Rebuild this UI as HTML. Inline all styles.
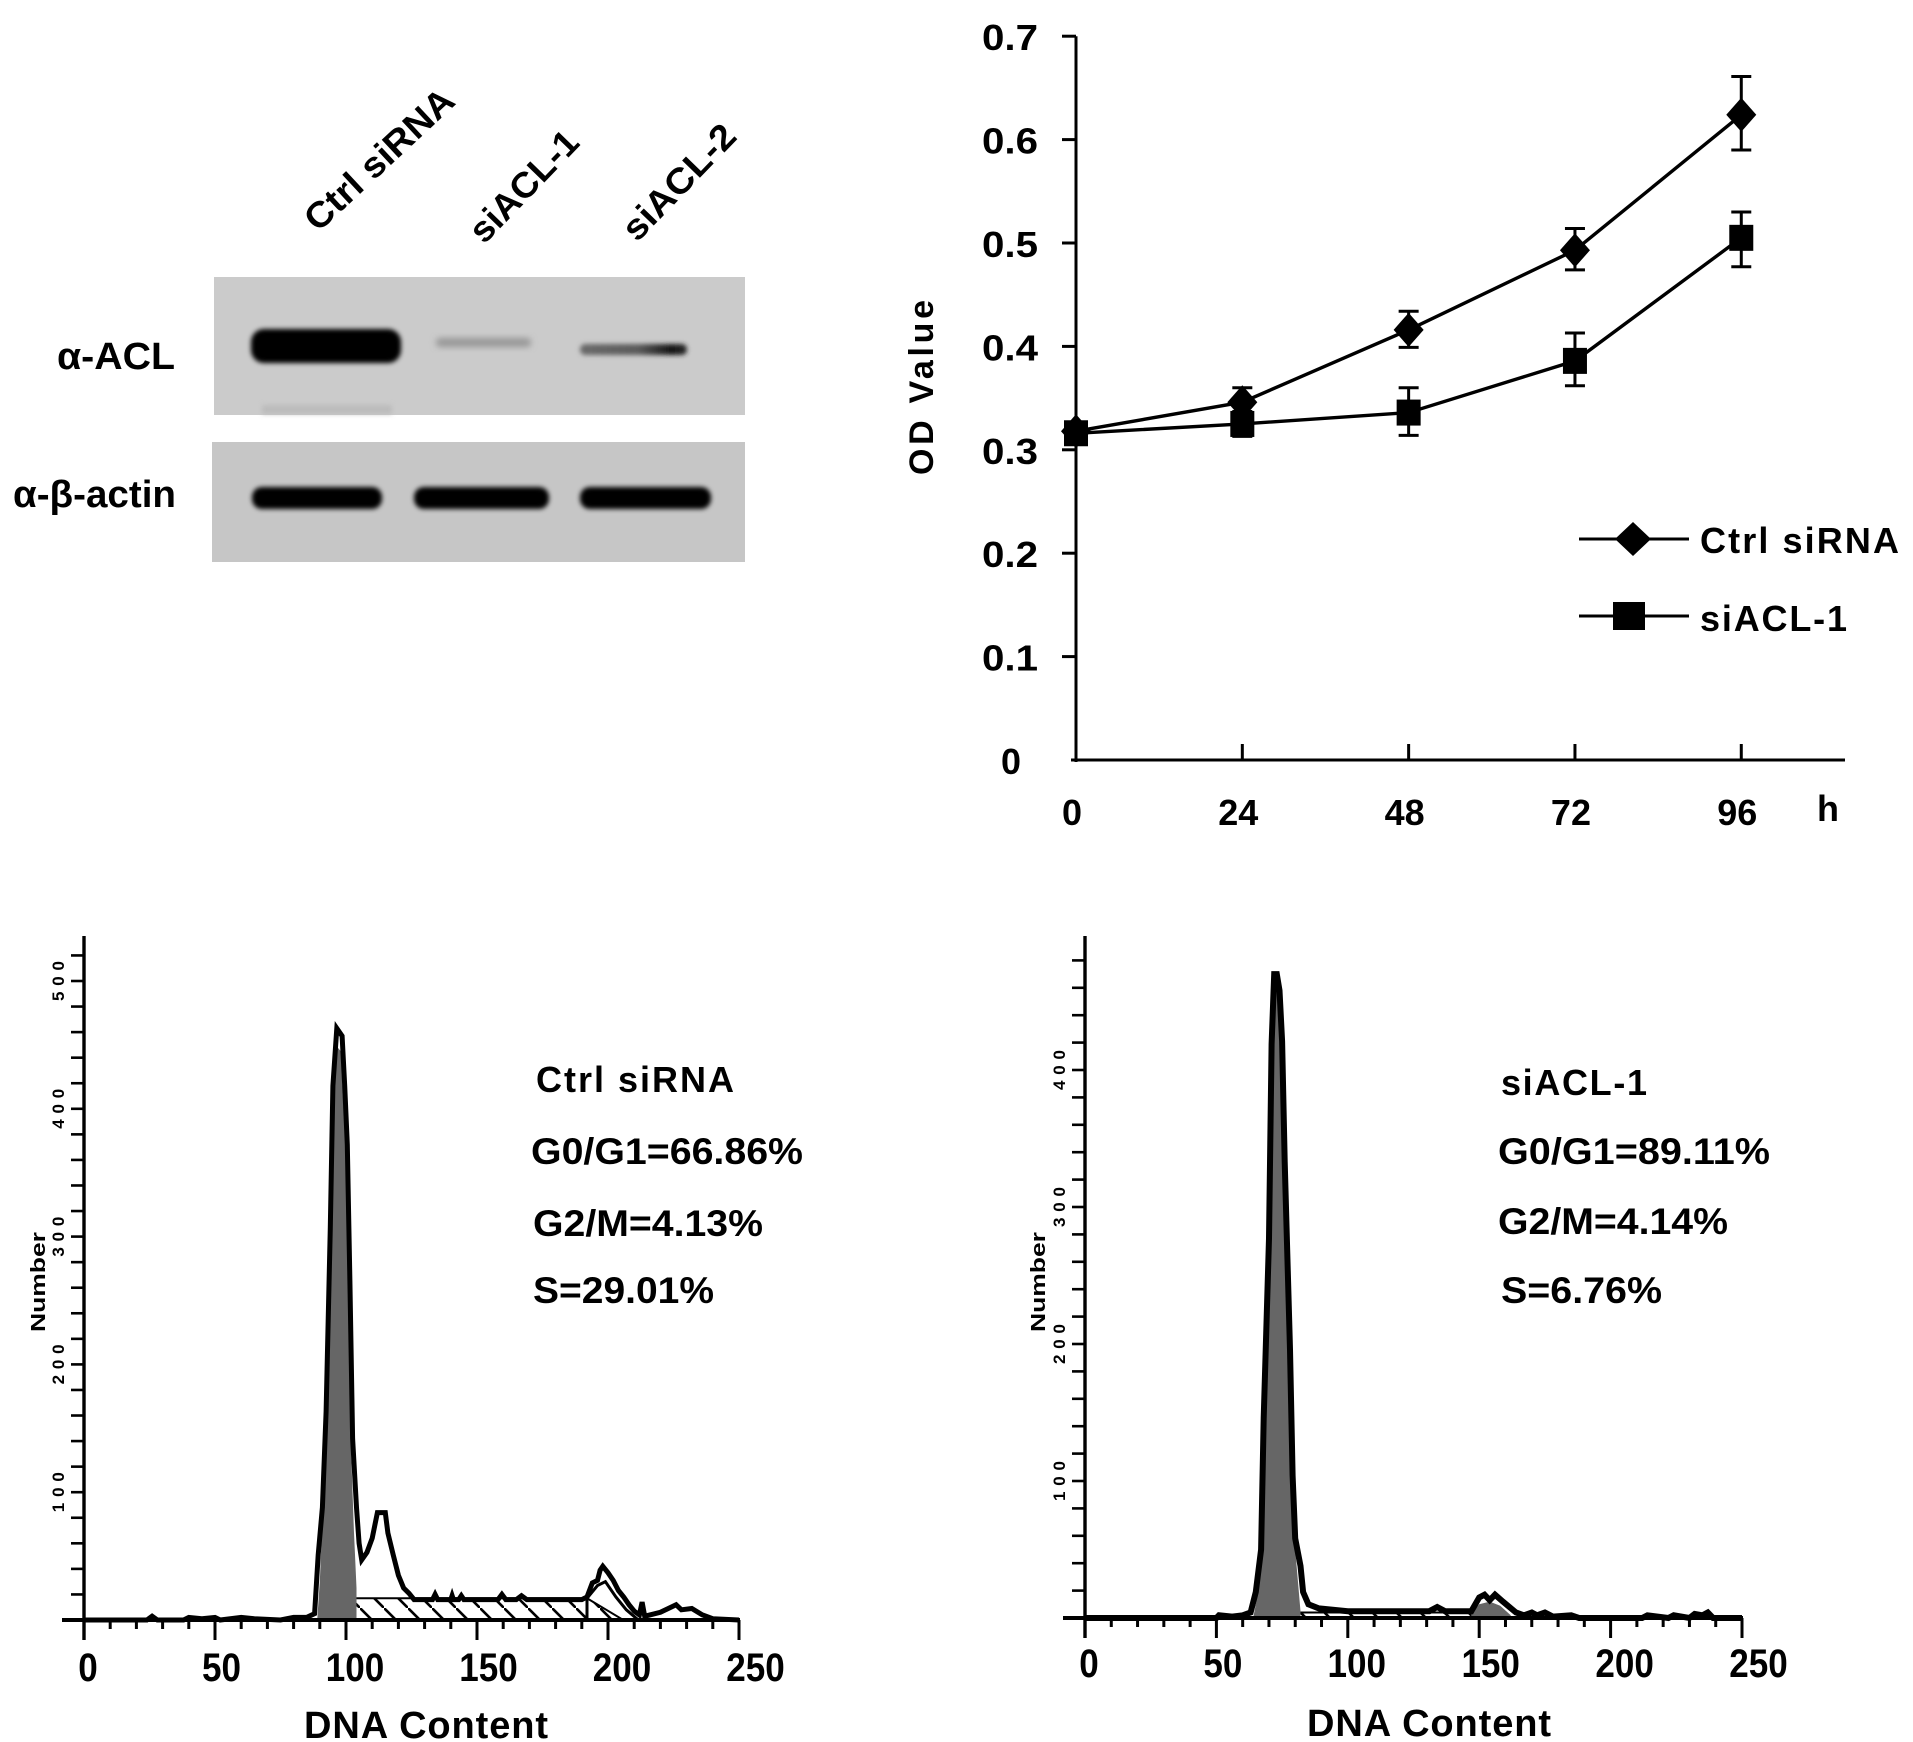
<!DOCTYPE html>
<html lang="en">
<head>
<meta charset="utf-8">
<title>ACL knockdown figure</title>
<style>
html,body{margin:0;padding:0;background:#fff;}
svg{display:block;}
text{font-family:"Liberation Sans",Arial,"DejaVu Sans",sans-serif;font-weight:bold;fill:#000;}
</style>
</head>
<body>
<svg id="figure" xmlns="http://www.w3.org/2000/svg" width="1913" height="1742" viewBox="0 0 1913 1742">
<defs>
<filter id="b8" x="-20%" y="-60%" width="140%" height="220%"><feGaussianBlur stdDeviation="2.4"/></filter>
<filter id="b4" x="-20%" y="-60%" width="140%" height="220%"><feGaussianBlur stdDeviation="3.2"/></filter>
<linearGradient id="band3grad" x1="0" x2="1" y1="0" y2="0"><stop offset="0" stop-color="#6a6a6a"/><stop offset="0.55" stop-color="#5a5a5a"/><stop offset="0.85" stop-color="#141414"/><stop offset="1" stop-color="#2a2a2a"/></linearGradient>
<pattern id="hatch" patternUnits="userSpaceOnUse" width="24" height="24">
<line x1="-2" y1="-2" x2="26" y2="26" stroke="#000" stroke-width="2.6"/>
</pattern>
</defs>

<g id="blot">
<rect x="214" y="277" width="531" height="138" fill="#cbcbcb"/>
<rect x="262" y="405" width="130" height="9" fill="#bcbcbc" filter="url(#b8)"/>
<rect x="251" y="329" width="150" height="34" rx="13" fill="#000" filter="url(#b8)"/>
<rect x="436" y="338" width="95" height="9" rx="4" fill="#979797" filter="url(#b4)"/>
<rect x="580" y="344" width="107" height="11" rx="5" fill="url(#band3grad)" filter="url(#b8)"/>
<rect x="212" y="442" width="533" height="120" fill="#c6c6c6"/>
<rect x="252" y="487" width="130" height="22" rx="10" fill="#000" filter="url(#b8)"/>
<rect x="414" y="487" width="135" height="22" rx="10" fill="#000" filter="url(#b8)"/>
<rect x="580" y="487" width="131" height="22" rx="10" fill="#000" filter="url(#b8)"/>
<text x="57" y="369" font-size="38" textLength="118" lengthAdjust="spacingAndGlyphs">α-ACL</text>
<text x="13" y="507" font-size="38" textLength="163" lengthAdjust="spacingAndGlyphs">α-β-actin</text>
<text transform="translate(318 233) rotate(-43)" font-size="36" textLength="190" lengthAdjust="spacingAndGlyphs">Ctrl siRNA</text>
<text transform="translate(484 245) rotate(-46)" font-size="36" textLength="140" lengthAdjust="spacingAndGlyphs">siACL-1</text>
<text transform="translate(637 243) rotate(-46)" font-size="36" textLength="146" lengthAdjust="spacingAndGlyphs">siACL-2</text>
</g>

<g id="od"></g>
<g id="histL"></g>
<g id="histR"></g>

<g>
<text x="536" y="1092" font-size="36" textLength="198" lengthAdjust="spacing">Ctrl siRNA</text>
<text x="531" y="1164" font-size="37" textLength="272" lengthAdjust="spacingAndGlyphs">G0/G1=66.86%</text>
<text x="533" y="1236" font-size="37" textLength="230" lengthAdjust="spacingAndGlyphs">G2/M=4.13%</text>
<text x="533" y="1303" font-size="37" textLength="181" lengthAdjust="spacingAndGlyphs">S=29.01%</text>
</g>
<g>
<text x="1501" y="1095" font-size="36" textLength="146" lengthAdjust="spacing">siACL-1</text>
<text x="1498" y="1164" font-size="37" textLength="272" lengthAdjust="spacingAndGlyphs">G0/G1=89.11%</text>
<text x="1498" y="1234" font-size="37" textLength="230" lengthAdjust="spacingAndGlyphs">G2/M=4.14%</text>
<text x="1501" y="1303" font-size="37" textLength="161" lengthAdjust="spacingAndGlyphs">S=6.76%</text>
</g>
</svg>

<script>
// ----- OD line chart data -----
var odHours = [0, 24, 48, 72, 96];
var odYTicks = [0, 0.1, 0.2, 0.3, 0.4, 0.5, 0.6, 0.7];
var ctrlOd = [0.318, 0.346, 0.416, 0.493, 0.624];
var ctrlOdHigh = [0.325, 0.360, 0.434, 0.514, 0.661];
var ctrlOdLow = [0.312, 0.332, 0.399, 0.474, 0.590];
var siaclOd = [0.316, 0.325, 0.336, 0.386, 0.505];
var siaclOdHigh = [0.322, 0.337, 0.360, 0.413, 0.530];
var siaclOdLow = [0.310, 0.313, 0.314, 0.362, 0.477];

// ----- Ctrl siRNA histogram data -----
var ctrlChannels = [0,24,26,28,38,40,45,50,52,60,65,75,80,85,88,89.4,91,92.4,94,95,96.5,98.5,99.5,100.5,101.5,102.5,104,105,106,108,110,112,115,116,118,120,122,124,126,133,134,135,140,140.5,141,143,144,145,158,159.5,161,165,167,169,190,192,194,196,197,198,200,202,204,206,208,210,212,213,214,216,220,224,226,228,232,236,240,250];
var ctrlCounts = [0,0,3,0,0,2,1,2,0,2,1,0,2,2,5,51,88,163,307,418,463,457,418,372,265,142,88,60,47,53,64,84,84,68,51,35,25,21,16,16,20,16,16,19,16,16,19,16,16,20,16,16,19,16,16,18,29,31,39,42,37,31,23,18,12,7,4,14,3,4,6,10,12,8,9,4,1,0];
var ctrlG1Channels = [89,90,92,94,95,96,98,100,101,102,103,104];
var ctrlG1Counts = [0,30,130,290,400,450,445,360,250,130,70,25];
var ctrlSChannels = [95,102,192,205];
var ctrlSCounts = [1,17,17,1];
var ctrlG2Channels = [192,196,199,203,207,211];
var ctrlG2Counts = [17,27,30,18,8,1];
var ctrlYTicks = [100, 200, 300, 400, 500];

// ----- siACL-1 histogram data -----
var siChannels = [0,50,51,56,60,63,65,67,68,70,71,72,73,74,75,76,78,79,80,82,83,85,89,100,131,134,137,147,150,152,154,156,159,164,167,170,172,175,178,185,188,212,214,222,224,230,232,235,237,239,250];
var siCounts = [0,0,2,1,2,4,19,50,146,277,419,470,470,458,421,333,196,104,58,38,19,10,7,5,5,8,5,5,15,17,13,17,12,4,2,4,2,4,1,2,0,0,2,0,2,0,3,2,4,0,0];
var siG1Channels = [64,66,68,70,71,72,73,74,75,76,78,79,80,82];
var siG1Counts = [0,20,130,265,400,455,460,445,405,320,185,95,50,5];
var siG2Channels = [147,150,154,158,162];
var siG2Counts = [3,10,12,9,2];
var siSChannels = [76,80,150,160];
var siSCounts = [1,4,4,1];
var siYTicks = [100, 200, 300, 400];

// ----- shared tick values -----
var xTickValues = [0, 50, 100, 150, 200, 250];

var NS = 'http://www.w3.org/2000/svg';
function make(parent, tag, attrs, txt) {
  var e = document.createElementNS(NS, tag);
  for (var k in attrs) e.setAttribute(k, attrs[k]);
  if (txt !== undefined) e.textContent = txt;
  parent.appendChild(e);
  return e;
}
function linePath(xs, ys, fx, fy) {
  var d = '';
  for (var i = 0; i < xs.length; i++) d += (i ? 'L' : 'M') + fx(xs[i]).toFixed(1) + ' ' + fy(ys[i]).toFixed(1);
  return d;
}
function areaPath(xs, ys, fx, fy) {
  return linePath(xs, ys, fx, fy) + 'L' + fx(xs[xs.length - 1]).toFixed(1) + ' ' + fy(0).toFixed(1) + 'L' + fx(xs[0]).toFixed(1) + ' ' + fy(0).toFixed(1) + 'Z';
}

// ===== OD chart =====
(function () {
  var g = document.getElementById('od');
  var fx = function (h) { return 1076 + h * 6.93; };
  var fy = function (v) { return 760 - v * 1034; };
  var ax;
  ax = make(g, 'line', {x1: 1076, y1: fy(0.7), x2: 1076, y2: 762, stroke: '#000', 'stroke-width': 3});
  
  
  ax = make(g, 'line', {x1: 1071, y1: 760, x2: 1845, y2: 760, stroke: '#000', 'stroke-width': 3});
  
  

  odYTicks.forEach(function (v) {
    if (v > 0) {
      var t = make(g, 'line', {x1: 1062, y1: fy(v), x2: 1076, y2: fy(v), stroke: '#000', 'stroke-width': 3});
      
      
    }
    var l = make(g, 'text', {x: v === 0 ? 1001 : 982, y: fy(v) + 14, 'font-size': 36, textLength: v === 0 ? 20 : 56, lengthAdjust: 'spacingAndGlyphs'}, String(v));
    
    
  });
  odHours.forEach(function (h) {
    if (h > 0) {
      var t = make(g, 'line', {x1: fx(h), y1: 744, x2: fx(h), y2: 760, stroke: '#000', 'stroke-width': 3});
      
      
    }
    var l = make(g, 'text', {x: fx(h) - 4, y: 825, 'font-size': 36, 'text-anchor': 'middle'}, String(h));
    
    
  });
  var u = make(g, 'text', {x: 1817, y: 821, 'font-size': 36}, 'h');
  
  
  var yt = make(g, 'text', {transform: 'translate(933 475) rotate(-90)', 'font-size': 34, textLength: 175, lengthAdjust: 'spacing'}, 'OD Value');
  
  

  function series(vals, hi, lo, name, marker) {
    var p = make(g, 'path', {d: linePath(odHours, vals, fx, fy), fill: 'none', stroke: '#000', 'stroke-width': 3.4});
    
    
    odHours.forEach(function (h, i) {
      var x = fx(h);
      var e = make(g, 'path', {d: 'M' + (x - 10) + ' ' + fy(hi[i]) + 'H' + (x + 10) + 'M' + x + ' ' + fy(hi[i]) + 'V' + fy(lo[i]) + 'M' + (x - 10) + ' ' + fy(lo[i]) + 'H' + (x + 10), fill: 'none', stroke: '#000', 'stroke-width': 3});
      
      
      var y = fy(vals[i]);
      var m;
      if (marker === 'diamond') {
        m = make(g, 'polygon', {points: x + ',' + (y - 17) + ' ' + (x + 15) + ',' + y + ' ' + x + ',' + (y + 17) + ' ' + (x - 15) + ',' + y, fill: '#000'});
      } else {
        m = make(g, 'rect', {x: x - 12, y: y - 13, width: 24, height: 26, fill: '#000'});
      }
      
      
    });
  }
  series(ctrlOd, ctrlOdHigh, ctrlOdLow, 'ctrl-sirna', 'diamond');
  series(siaclOd, siaclOdHigh, siaclOdLow, 'siacl-1', 'square');

  // legend
  var k;
  k = make(g, 'line', {x1: 1579, y1: 539, x2: 1689, y2: 539, stroke: '#000', 'stroke-width': 3});
  
  
  k = make(g, 'polygon', {points: '1633,522 1651,539 1633,556 1615,539', fill: '#000'});
  
  
  k = make(g, 'text', {x: 1700, y: 553, 'font-size': 36, textLength: 199, lengthAdjust: 'spacing'}, 'Ctrl siRNA');
  
  
  k = make(g, 'line', {x1: 1579, y1: 616, x2: 1689, y2: 616, stroke: '#000', 'stroke-width': 3});
  
  
  k = make(g, 'rect', {x: 1613, y: 602, width: 32, height: 28, fill: '#000'});
  
  
  k = make(g, 'text', {x: 1700, y: 631, 'font-size': 36, textLength: 147, lengthAdjust: 'spacing'}, 'siACL-1');
  
  
})();

// ===== Histograms =====
function drawHist(cfg) {
  var g = document.getElementById(cfg.id);
  var fx = cfg.fx, fy = cfg.fy, pre = cfg.prefix, a;

  a = make(g, 'path', {d: areaPath(cfg.sX, cfg.sY, fx, fy), fill: '#fff'});
  
  
  a = make(g, 'path', {d: areaPath(cfg.sX, cfg.sY, fx, fy), fill: 'url(#hatch)', stroke: '#000', 'stroke-width': 2});
  
  
  a = make(g, 'path', {d: areaPath(cfg.g1X, cfg.g1Y, fx, fy), fill: '#666'});
  
  
  a = make(g, 'path', {d: areaPath(cfg.g2X, cfg.g2Y, fx, fy), fill: cfg.g2Fill, stroke: '#000', 'stroke-width': cfg.g2Stroke});
  
  
  a = make(g, 'path', {d: linePath(cfg.x, cfg.y, fx, fy), fill: 'none', stroke: '#000', 'stroke-width': cfg.sw, 'stroke-linejoin': 'miter'});
  
  

  a = make(g, 'line', {x1: fx(0), y1: 936, x2: fx(0), y2: fy(0) + 20, stroke: '#000', 'stroke-width': 3.4});
  
  
  a = make(g, 'line', {x1: fx(0) - 22, y1: fy(0), x2: fx(250) + 1, y2: fy(0), stroke: '#000', 'stroke-width': 4});
  
  

  var v, t;
  for (v = 10; v <= 250; v += 10) {
    t = make(g, 'line', {x1: fx(v), y1: fy(0), x2: fx(v), y2: fy(0) + (v % 50 === 0 ? 20 : 9), stroke: '#000', 'stroke-width': 3});
    
    
  }
  for (v = 20; v <= cfg.yMax; v += 20) {
    t = make(g, 'line', {x1: fx(0) - 13, y1: fy(v), x2: fx(0), y2: fy(v), stroke: '#000', 'stroke-width': 2.6});
    
    
  }
  xTickValues.forEach(function (val) {
    var l = make(g, 'text', {x: fx(val) + 4 + val * 0.05, y: cfg.tickBase, 'font-size': 40, 'text-anchor': 'middle', textLength: String(val).length * 19.5, lengthAdjust: 'spacingAndGlyphs'}, String(val));
    
    
  });
  cfg.yTicks.forEach(function (val) {
    var l = make(g, 'text', {transform: 'translate(' + (fx(0) - 20) + ' ' + (fy(val) + 20) + ') rotate(-90)', 'font-size': 17, textLength: 40, lengthAdjust: 'spacing'}, String(val));
    
    
  });
  var yl = make(g, 'text', {transform: 'translate(' + cfg.numX + ' 1332) rotate(-90)', 'font-size': 20, textLength: 100, lengthAdjust: 'spacingAndGlyphs', 'font-weight': 'normal'}, 'Number');
  
  
  var xl = make(g, 'text', {x: cfg.titleX, y: cfg.titleY, 'font-size': 38, textLength: 244, lengthAdjust: 'spacing'}, 'DNA Content');
  
  
}

drawHist({
  id: 'histL', prefix: 'ctrl',
  fx: function (c) { return 84 + c * 2.62; },
  fy: function (n) { return 1620 - n * 1.278; },
  x: ctrlChannels, y: ctrlCounts, g1X: ctrlG1Channels, g1Y: ctrlG1Counts,
  sX: ctrlSChannels, sY: ctrlSCounts, g2X: ctrlG2Channels, g2Y: ctrlG2Counts,
  g2Fill: 'none', g2Stroke: 3, sw: 5, yMax: 520, yTicks: ctrlYTicks,
  tickBase: 1681, numX: 45, titleX: 304, titleY: 1738
});
drawHist({
  id: 'histR', prefix: 'siacl',
  fx: function (c) { return 1085 + c * 2.628; },
  fy: function (n) { return 1618 - n * 1.37; },
  x: siChannels, y: siCounts, g1X: siG1Channels, g1Y: siG1Counts,
  sX: siSChannels, sY: siSCounts, g2X: siG2Channels, g2Y: siG2Counts,
  g2Fill: '#666', g2Stroke: 0, sw: 6, yMax: 480, yTicks: siYTicks,
  tickBase: 1677, numX: 1045, titleX: 1307, titleY: 1736
});
</script>
</body>
</html>
